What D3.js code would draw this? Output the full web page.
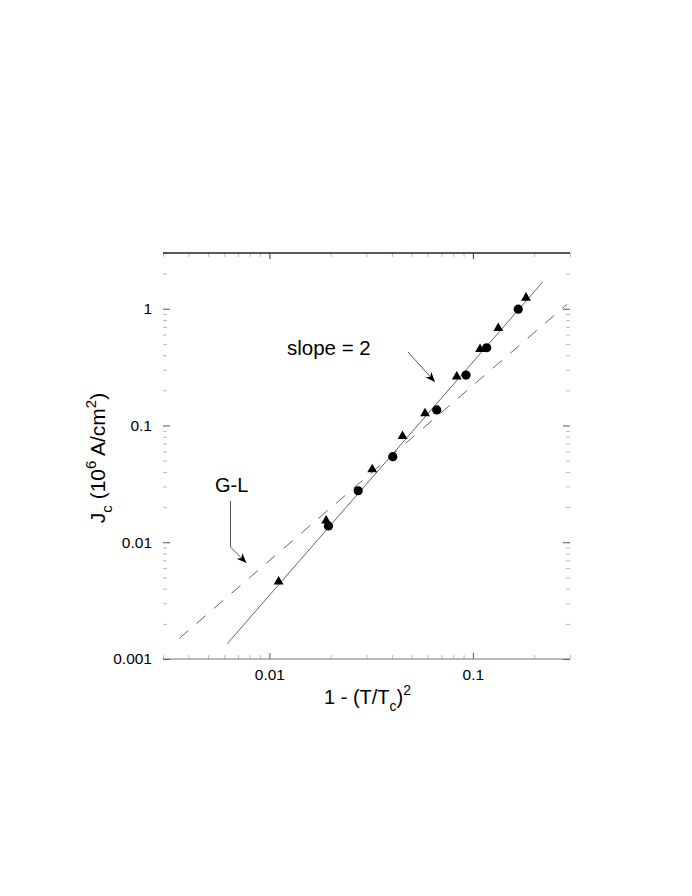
<!DOCTYPE html>
<html>
<head>
<meta charset="utf-8">
<script src="https://cdn.jsdelivr.net/npm/d3@7"></script>
<style>
  body { margin: 0; background: #fff; }
  text { font-family: "Liberation Sans", Arial, Helvetica, sans-serif; fill: #000; }
</style>
</head>
<body>
<div id="chart"></div>
<script>
'use strict';

// measured points, 1 - (T/Tc)^2 vs Jc (10^6 A/cm^2)
const triX = [0.0111, 0.0190, 0.0320, 0.0451, 0.0582, 0.0833, 0.1084, 0.1333, 0.1824];
const triY = [0.00459, 0.0153, 0.042, 0.081, 0.127, 0.262, 0.45, 0.68, 1.24];
const circX = [0.0195, 0.0273, 0.0404, 0.0664, 0.0925, 0.1169, 0.167];
const circY = [0.0138, 0.0276, 0.054, 0.136, 0.27, 0.463, 0.99];

// straight lines on log-log axes (end points)
const fitX = [0.0062, 0.22];
const fitY = [0.00135, 1.69];
const glX = [0.0036, 0.29];
const glY = [0.0015, 1.09];

const xTicks = [0.01, 0.1];
const xTickLabels = ['0.01', '0.1'];
const yTicks = [0.001, 0.01, 0.1, 1];
const yTickLabels = ['0.001', '0.01', '0.1', '1'];

const width = 692;
const height = 896;
const plotLeft = 163, plotRight = 570, plotTop = 253, plotBottom = 659;

const svg = d3.select('#chart')
  .append('svg')
  .attr('width', width)
  .attr('height', height);

const x = d3.scaleLog().domain([0.003, 0.3]).range([plotLeft, plotRight]);
const y = d3.scaleLog().domain([0.001, 3]).range([plotBottom, plotTop]);

// minor tick values, 2..9 of each decade inside the domain
function minors(scale) {
  const [a, b] = scale.domain();
  const out = [];
  for (let e = Math.floor(Math.log10(a)); e <= Math.ceil(Math.log10(b)); e++) {
    for (let k = 2; k <= 9; k++) {
      const v = k * Math.pow(10, e);
      if (v >= a * 0.999 && v <= b * 1.001) out.push(+v.toPrecision(3));
    }
  }
  return out;
}

function styleAxis(g, color) {
  g.select('.domain').remove();
  g.selectAll('.tick line').attr('stroke', color).attr('stroke-width', 1);
}

// minor ticks
svg.append('g').attr('transform', 'translate(0,' + plotBottom + ')')
  .call(d3.axisBottom(x).tickValues(minors(x)).tickSize(-4).tickFormat(''))
  .call(g => styleAxis(g, '#bbb'));
svg.append('g').attr('transform', 'translate(0,' + plotTop + ')')
  .call(d3.axisTop(x).tickValues(minors(x)).tickSize(-4).tickFormat(''))
  .call(g => styleAxis(g, '#bbb'));
svg.append('g').attr('transform', 'translate(' + plotLeft + ',0)')
  .call(d3.axisLeft(y).tickValues(minors(y)).tickSize(-4).tickFormat(''))
  .call(g => styleAxis(g, '#bbb'));
svg.append('g').attr('transform', 'translate(' + plotRight + ',0)')
  .call(d3.axisRight(y).tickValues(minors(y)).tickSize(-4).tickFormat(''))
  .call(g => styleAxis(g, '#bbb'));

// major ticks + labels
svg.append('g').attr('transform', 'translate(0,' + plotBottom + ')')
  .call(d3.axisBottom(x).tickValues(xTicks).tickSize(-6).tickPadding(10)
    .tickFormat((d, i) => xTickLabels[i]))
  .call(g => styleAxis(g, '#555'));
svg.append('g').attr('transform', 'translate(0,' + plotTop + ')')
  .call(d3.axisTop(x).tickValues(xTicks).tickSize(-6).tickFormat(''))
  .call(g => styleAxis(g, '#333'));
svg.append('g').attr('transform', 'translate(' + plotLeft + ',0)')
  .call(d3.axisLeft(y).tickValues(yTicks).tickSize(-7).tickPadding(11)
    .tickFormat((d, i) => yTickLabels[i]))
  .call(g => styleAxis(g, '#555'));
svg.append('g').attr('transform', 'translate(' + plotRight + ',0)')
  .call(d3.axisRight(y).tickValues(yTicks).tickSize(-7).tickFormat(''))
  .call(g => styleAxis(g, '#555'));

svg.selectAll('.tick text')
  .attr('font-size', 15.5)
  .attr('font-family', '"Liberation Sans", Arial, sans-serif')
  .attr('fill', '#000');

// frame: only top and bottom lines
svg.append('line')
  .attr('x1', plotLeft).attr('x2', plotRight).attr('y1', plotTop).attr('y2', plotTop)
  .attr('stroke', '#222').attr('stroke-width', 1.5);
svg.append('line')
  .attr('x1', plotLeft).attr('x2', plotRight).attr('y1', plotBottom).attr('y2', plotBottom)
  .attr('stroke', '#777').attr('stroke-width', 1);

// lines
const line = d3.line().x(d => x(d[0])).y(d => y(d[1]));

svg.append('path')
  .datum(glX.map((v, i) => [v, glY[i]]))
  .attr('d', line)
  .attr('fill', 'none')
  .attr('stroke', '#555')
  .attr('stroke-width', 0.9)
  .attr('stroke-dasharray', '12,11');

svg.append('path')
  .datum(fitX.map((v, i) => [v, fitY[i]]))
  .attr('d', line)
  .attr('fill', 'none')
  .attr('stroke', '#555')
  .attr('stroke-width', 0.9);

// points
svg.append('g')
  .selectAll('path')
  .data(triX.map((v, i) => [v, triY[i]]))
  .join('path')
  .attr('d', d3.symbol(d3.symbolTriangle, 42))
  .attr('transform', d => 'translate(' + x(d[0]) + ',' + y(d[1]) + ')')
  .attr('fill', '#000');

svg.append('g')
  .selectAll('circle')
  .data(circX.map((v, i) => [v, circY[i]]))
  .join('circle')
  .attr('cx', d => x(d[0]))
  .attr('cy', d => y(d[1]))
  .attr('r', 4.6)
  .attr('fill', '#000');

// arrows
const defs = svg.append('defs');
defs.append('marker')
  .attr('id', 'head')
  .attr('viewBox', '-10 -5 11 10')
  .attr('markerWidth', 11)
  .attr('markerHeight', 10)
  .attr('markerUnits', 'userSpaceOnUse')
  .attr('refX', 0)
  .attr('refY', 0)
  .attr('orient', 'auto')
  .append('path')
  .attr('d', 'M0,0 L-10,-4 L-7,0 L-10,4 Z')
  .attr('fill', '#000');

svg.append('text')
  .attr('x', 287).attr('y', 355)
  .attr('font-size', 20.5)
  .text('slope = 2');
svg.append('polyline')
  .attr('points', '408,352 435,382')
  .attr('fill', 'none')
  .attr('stroke', '#444')
  .attr('stroke-width', 0.9)
  .attr('marker-end', 'url(#head)');

svg.append('text')
  .attr('x', 215).attr('y', 492)
  .attr('font-size', 20)
  .text('G-L');
svg.append('polyline')
  .attr('points', '230.5,501 230.5,547 246.5,563')
  .attr('fill', 'none')
  .attr('stroke', '#444')
  .attr('stroke-width', 0.9)
  .attr('marker-end', 'url(#head)');

// axis titles
const xt = svg.append('text')
  .attr('x', (plotLeft + plotRight) / 2 + 1)
  .attr('y', 704)
  .attr('text-anchor', 'middle')
  .attr('font-size', 20);
xt.append('tspan').text('1 - (T/T');
xt.append('tspan').attr('font-size', 14).attr('dy', 7).text('c');
xt.append('tspan').attr('dy', -7).text(')');
xt.append('tspan').attr('font-size', 14).attr('dy', -9).text('2');

const yt = svg.append('text')
  .attr('transform', 'translate(105,' + ((plotTop + plotBottom) / 2 + 2) + ') rotate(-90)')
  .attr('text-anchor', 'middle')
  .attr('font-size', 21);
yt.append('tspan').text('J');
yt.append('tspan').attr('font-size', 15).attr('dy', 7).text('c');
yt.append('tspan').attr('dy', -7).text(' (10');
yt.append('tspan').attr('font-size', 15).attr('dy', -9).text('6');
yt.append('tspan').attr('dy', 9).text(' A/cm');
yt.append('tspan').attr('font-size', 15).attr('dy', -9).text('2');
yt.append('tspan').attr('dy', 9).text(')');
</script>
</body>
</html>
